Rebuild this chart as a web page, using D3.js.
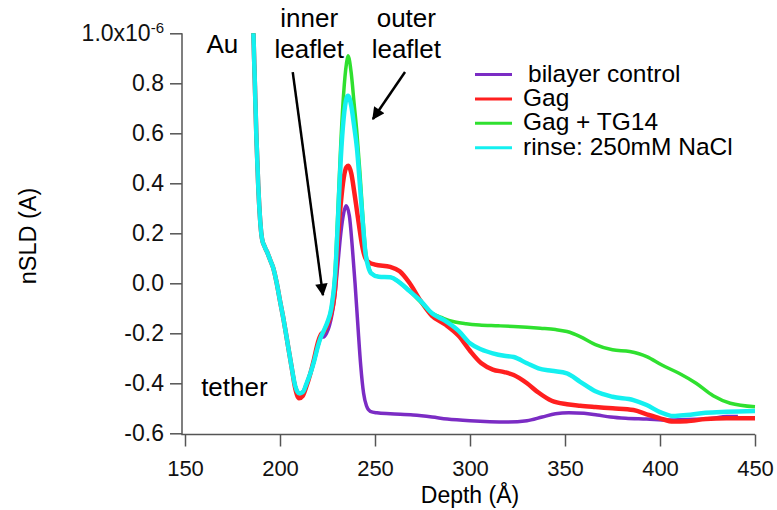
<!DOCTYPE html>
<html lang="en">
<head>
  <meta charset="UTF-8">
  <title>nSLD profiles</title>
  <script src="https://d3js.org/d3.v7.min.js"></script>
  <style>
    body {
      margin: 0;
      background: #fff;
    }
    svg {
      display: block;
      font-family: "Liberation Sans", Arial, sans-serif;
    }
    .axis line {
      stroke: #555;
      stroke-width: 1.5;
    }
    .axis text {
      fill: #111;
    }
    .frame {
      fill: none;
      stroke: #555;
      stroke-width: 1.5;
    }
    .note {
      font-size: 26px;
      fill: #000;
    }
    .legend text {
      font-size: 24.5px;
      fill: #000;
    }
  </style>
</head>
<body>
  <svg id="chart"></svg>
  <script>
    // shared part of all profiles (gold + upper tether)
    const commonDepth = [186, 186.8, 187.6, 188.5, 189.4, 190.5, 192, 193.5, 195, 196.5, 198.3, 200, 202, 204, 206];
    const commonSld = [1.0, 0.79, 0.58, 0.40, 0.27, 0.18, 0.145, 0.12, 0.09, 0.06, 0.0, -0.07, -0.15, -0.24, -0.33];

    const bilayerDepth = [208, 210, 212, 214, 216, 218, 220, 221.5, 223, 224.5, 226, 227.5, 229, 230.5, 232, 233.5, 234.8, 236.5, 238, 239.5, 241, 242.5, 244, 245.5, 247.5, 251, 258, 270, 280, 288, 300, 320, 330, 338, 345, 352, 360, 367, 374, 382, 393, 404, 419, 428, 435, 441];
    const bilayerSld = [-0.41, -0.44, -0.435, -0.40, -0.36, -0.31, -0.25, -0.215, -0.215, -0.20, -0.17, -0.12, -0.04, 0.08, 0.20, 0.28, 0.31, 0.27, 0.15, 0.0, -0.17, -0.33, -0.44, -0.49, -0.512, -0.518, -0.522, -0.527, -0.535, -0.543, -0.55, -0.555, -0.55, -0.535, -0.522, -0.518, -0.52, -0.527, -0.535, -0.54, -0.543, -0.547, -0.544, -0.54, -0.533, -0.533];

    const gagDepth = [208, 210, 212, 214, 216, 218, 220, 221.5, 223, 225, 227, 229, 230.5, 232, 233.5, 235, 236, 237.5, 239, 240.5, 242, 243.5, 245, 247, 250, 258, 263, 268, 274, 280, 287, 294, 300, 306, 312, 318, 323, 330, 336, 343, 351, 358, 366, 375, 386, 393, 400, 407, 414, 424, 435, 450];
    const gagSld = [-0.42, -0.46, -0.45, -0.41, -0.36, -0.30, -0.235, -0.205, -0.195, -0.165, -0.12, -0.02, 0.18, 0.32, 0.42, 0.465, 0.47, 0.44, 0.37, 0.29, 0.21, 0.14, 0.10, 0.083, 0.075, 0.066, 0.048, 0.003, -0.07, -0.13, -0.165, -0.21, -0.27, -0.32, -0.345, -0.355, -0.367, -0.40, -0.437, -0.47, -0.484, -0.49, -0.495, -0.50, -0.507, -0.524, -0.54, -0.553, -0.552, -0.543, -0.54, -0.54];

    const tg14Depth = [208, 210, 212, 214, 216, 218, 220, 221.5, 223, 225, 227, 229, 230.5, 232, 233.5, 235, 235.8, 237.5, 239, 240.5, 242, 243.5, 245, 246.5, 248, 252, 258, 263, 268, 274, 280, 286, 291, 298, 305, 315, 323, 337, 345, 351, 358, 366, 375, 384, 393, 401, 410, 419, 428, 437, 450];
    const tg14Sld = [-0.41, -0.44, -0.435, -0.40, -0.36, -0.31, -0.25, -0.215, -0.19, -0.155, -0.10, 0.05, 0.30, 0.56, 0.76, 0.88, 0.91, 0.84, 0.72, 0.60, 0.45, 0.28, 0.13, 0.07, 0.04, 0.026, 0.024, 0.003, -0.03, -0.075, -0.12, -0.14, -0.153, -0.162, -0.167, -0.17, -0.173, -0.18, -0.185, -0.193, -0.213, -0.245, -0.266, -0.273, -0.293, -0.327, -0.36, -0.40, -0.45, -0.48, -0.494];

    const rinseDepth = [208, 210, 212, 214, 216, 218, 220, 221.5, 223, 225, 227, 229, 230.5, 232, 233.5, 235, 235.8, 237.5, 239, 240.5, 242, 243.5, 245, 246.5, 248, 252, 258, 263, 268, 274, 280, 287, 294, 300, 306, 312, 318, 323, 330, 336, 343, 351, 358, 366, 375, 386, 393, 400, 407, 414, 424, 435, 450];
    const rinseSld = [-0.41, -0.44, -0.435, -0.40, -0.36, -0.31, -0.25, -0.215, -0.19, -0.155, -0.10, 0.03, 0.25, 0.50, 0.66, 0.74, 0.75, 0.71, 0.63, 0.54, 0.40, 0.25, 0.12, 0.065, 0.04, 0.026, 0.024, 0.003, -0.03, -0.07, -0.12, -0.15, -0.19, -0.24, -0.265, -0.28, -0.29, -0.295, -0.32, -0.34, -0.35, -0.36, -0.394, -0.432, -0.454, -0.467, -0.487, -0.515, -0.531, -0.527, -0.518, -0.514, -0.511];

    const seriesNames = ["bilayer control", "Gag", "Gag + TG14", "rinse: 250mM NaCl"];
    const seriesColors = ["#7b2cc4", "#ff1f1f", "#2fe02f", "#14f0f0"];
    const seriesWidths = [3.5, 4.5, 3.5, 4.5];

    const xTicks = [150, 200, 250, 300, 350, 400, 450];
    const yTicks = [-0.6, -0.4, -0.2, 0.0, 0.2, 0.4, 0.6, 0.8, 1.0];

    const width = 777;
    const height = 510;

    const svg = d3.select("#chart")
      .attr("width", width)
      .attr("height", height);

    const x = d3.scaleLinear().domain([150, 450]).range([185, 755]);
    const y = d3.scaleLinear().domain([-0.6, 1.0]).range([433.3, 33.3]);

    const toPoints = (ds, vs) => ds.map((d, i) => [d, vs[i]]);
    const series = [
      toPoints(commonDepth.concat(bilayerDepth), commonSld.concat(bilayerSld)),
      toPoints(commonDepth.concat(gagDepth), commonSld.concat(gagSld)),
      toPoints(commonDepth.concat(tg14Depth), commonSld.concat(tg14Sld)),
      toPoints(commonDepth.concat(rinseDepth), commonSld.concat(rinseSld))
    ];

    // axes
    const xAxis = svg.append("g")
      .attr("class", "axis")
      .attr("transform", "translate(0,434.5)")
      .style("font-size", "22px")
      .call(d3.axisBottom(x).tickValues(xTicks).tickSize(12).tickPadding(14).tickFormat(d3.format("d")));
    xAxis.select(".domain").remove();

    const yAxis = svg.append("g")
      .attr("class", "axis")
      .attr("transform", "translate(182,0)")
      .call(d3.axisLeft(y).tickValues(yTicks).tickSize(12).tickPadding(6)
        .tickFormat(d => d === 1 ? "1.0x10" : d.toFixed(1)));
    yAxis.select(".domain").remove();
    yAxis.selectAll(".tick text").style("font-size", "23px");

    yAxis.selectAll(".tick text")
      .filter(d => d === 1)
      .append("tspan")
      .attr("dy", "-0.55em")
      .style("font-size", "15px")
      .text("-6");

    svg.append("path")
      .attr("class", "frame")
      .attr("d", `M182,${y(1.0)}V434.5H${x(450)}`);

    svg.append("text")
      .attr("x", x(300))
      .attr("y", 503)
      .attr("text-anchor", "middle")
      .style("font-size", "23px")
      .text("Depth (Å)");

    svg.append("text")
      .attr("transform", "translate(36,236) rotate(-90)")
      .attr("text-anchor", "middle")
      .style("font-size", "23.5px")
      .text("nSLD (A)");

    // curves
    const line = d3.line()
      .x(d => x(d[0]))
      .y(d => y(d[1]))
      .curve(d3.curveMonotoneX);

    svg.append("g")
      .selectAll("path")
      .data(series)
      .join("path")
      .attr("d", line)
      .attr("fill", "none")
      .attr("stroke", (d, i) => seriesColors[i])
      .attr("stroke-width", (d, i) => seriesWidths[i])
      .attr("stroke-linejoin", "round");

    // legend
    const legend = svg.append("g").attr("class", "legend");
    const rows = legend.selectAll("g")
      .data(seriesNames)
      .join("g")
      .attr("transform", (d, i) => `translate(475,${74.5 + i * 24.4})`);
    rows.append("line")
      .attr("x1", 0).attr("x2", 37)
      .attr("stroke", (d, i) => seriesColors[i])
      .attr("stroke-width", 3);
    rows.append("text")
      .attr("x", (d, i) => i === 0 ? 53 : 48)
      .attr("y", 7)
      .text(d => d);

    // annotations
    const defs = svg.append("defs");
    defs.append("marker")
      .attr("id", "head")
      .attr("viewBox", "0 0 10 10")
      .attr("refX", 9).attr("refY", 5)
      .attr("markerWidth", 6).attr("markerHeight", 5)
      .attr("markerUnits", "strokeWidth")
      .attr("orient", "auto")
      .append("path")
      .attr("d", "M0,0L10,5L0,10z")
      .attr("fill", "#000");

    const notes = [
      { text: "Au", depth: 161.3, sld: 0.92 },
      { text: "inner", depth: 215.4, sld: 1.025, mid: true },
      { text: "leaflet", depth: 215.4, sld: 0.9, mid: true },
      { text: "outer", depth: 266.5, sld: 1.025, mid: true },
      { text: "leaflet", depth: 266.5, sld: 0.9, mid: true },
      { text: "tether", depth: 158.5, sld: -0.45 }
    ];
    svg.selectAll(".note")
      .data(notes)
      .join("text")
      .attr("class", "note")
      .attr("x", d => x(d.depth))
      .attr("y", d => y(d.sld))
      .attr("text-anchor", d => d.mid ? "middle" : "start")
      .text(d => d.text);

    const arrows = [
      { from: [206.7, 0.845], to: [222.6, -0.047] },
      { from: [265.8, 0.845], to: [248.9, 0.657] }
    ];
    svg.selectAll(".arrow")
      .data(arrows)
      .join("line")
      .attr("class", "arrow")
      .attr("x1", d => x(d.from[0]))
      .attr("y1", d => y(d.from[1]))
      .attr("x2", d => x(d.to[0]))
      .attr("y2", d => y(d.to[1]))
      .attr("stroke", "#000")
      .attr("stroke-width", 2.5)
      .attr("marker-end", "url(#head)");
  </script>
</body>
</html>
